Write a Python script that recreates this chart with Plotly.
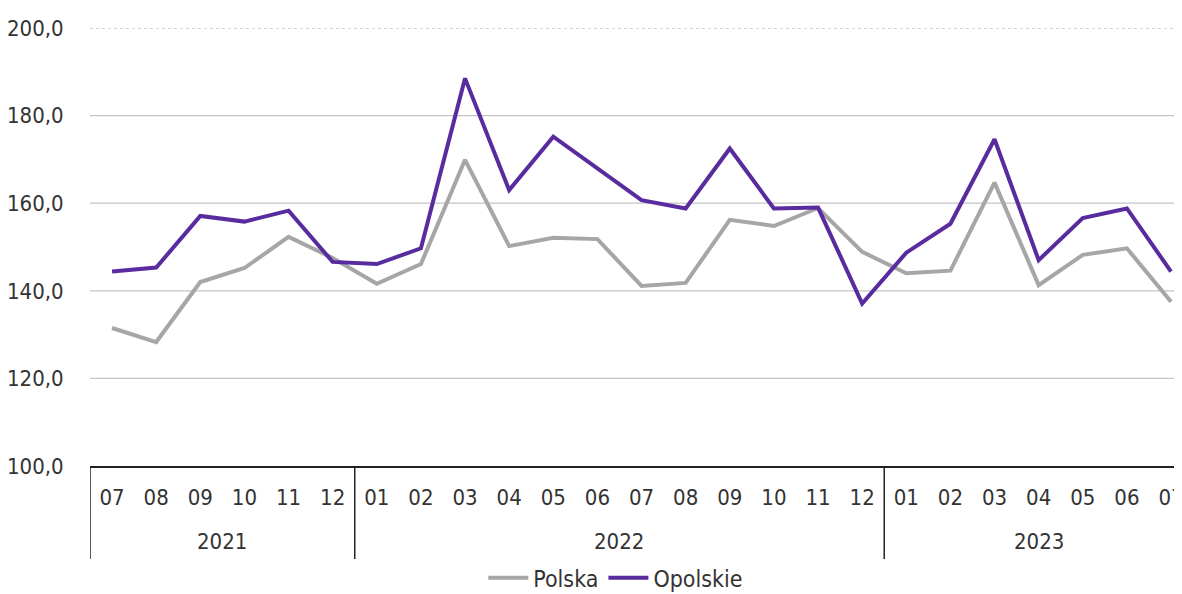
import plotly.graph_objects as go

months = ["07", "08", "09", "10", "11", "12",
          "01", "02", "03", "04", "05", "06", "07", "08", "09", "10", "11", "12",
          "01", "02", "03", "04", "05", "06", "07"]
years = ["2021", "2022", "2023"]
year_counts = [6, 12, 7]

polska = [131.5, 128.3, 142.0, 145.2, 152.3, 147.5,
          141.6, 146.1, 169.9, 150.2, 152.1, 151.8, 141.1, 141.8, 156.2, 154.8, 158.9, 148.9,
          144.0, 144.6, 164.7, 141.3, 148.2, 149.7, 137.5]
opolskie = [144.4, 145.3, 157.1, 155.8, 158.3, 146.6,
            146.1, 149.7, 188.5, 163.0, 175.2, 168.0, 160.7, 158.8, 172.5, 158.8, 159.0, 137.1,
            148.7, 155.3, 174.6, 147.0, 156.6, 158.8, 144.4]
y_ticks = [100, 120, 140, 160, 180, 200]

FONT = "DejaVu Sans Condensed, Liberation Sans Narrow, sans-serif"
TXT = "#333333"
x = list(range(len(months)))

fig = go.Figure()
fig.add_trace(go.Scatter(x=x, y=polska, mode="lines", name="Polska",
                         line=dict(color="#a6a6a6", width=4)))
fig.add_trace(go.Scatter(x=x, y=opolskie, mode="lines", name="Opolskie",
                         line=dict(color="#582c9e", width=4)))

# gridlines
for v in y_ticks[1:]:
    fig.add_shape(type="line", xref="paper", yref="y", x0=0, x1=1, y0=v, y1=v,
                  line=dict(color="#c4c4c4", width=1.3, dash="dot" if v == 200 else "solid"),
                  layer="below")

# year dividers and labels
start = 0
bounds = [-0.5]
for yr, n in zip(years, year_counts):
    fig.add_annotation(x=start + (n - 1) / 2, y=-0.1735, xref="x", yref="paper",
                       text=yr, showarrow=False, yanchor="middle",
                       font=dict(family=FONT, size=22, color=TXT))
    start += n
    bounds.append(start - 0.5)
for b in bounds[:-1]:
    fig.add_shape(type="line", xref="x", yref="paper", x0=b, x1=b, y0=0, y1=-0.2123,
                  line=dict(color="#222222", width=1.5))

fig.update_layout(
    width=1182, height=594,
    margin=dict(l=82, r=0, t=20, b=136, autoexpand=False),
    plot_bgcolor="white", paper_bgcolor="white",
    separators=", ",
    font=dict(family=FONT, size=22, color=TXT),
    showlegend=True,
    legend=dict(orientation="h", x=0.478, xanchor="center", y=-0.255, yanchor="middle",
                font=dict(family=FONT, size=23, color=TXT),
                itemwidth=40, tracegroupgap=0),
    xaxis=dict(range=[-0.5, 24.43], tickvals=x, ticktext=months, showgrid=False,
               showline=True, linecolor="#222222", linewidth=1.5,
               ticks="outside", ticklen=11, tickcolor="rgba(0,0,0,0)",
               tickfont=dict(family=FONT, size=22, color=TXT), zeroline=False),
    yaxis=dict(range=[100, 200], tickvals=y_ticks, tickformat=".1f", showgrid=False,
               zeroline=False, showline=False, ticks="outside", ticklen=21,
               tickcolor="rgba(0,0,0,0)",
               tickfont=dict(family=FONT, size=22, color=TXT)),
)

fig.write_html("out.html")
